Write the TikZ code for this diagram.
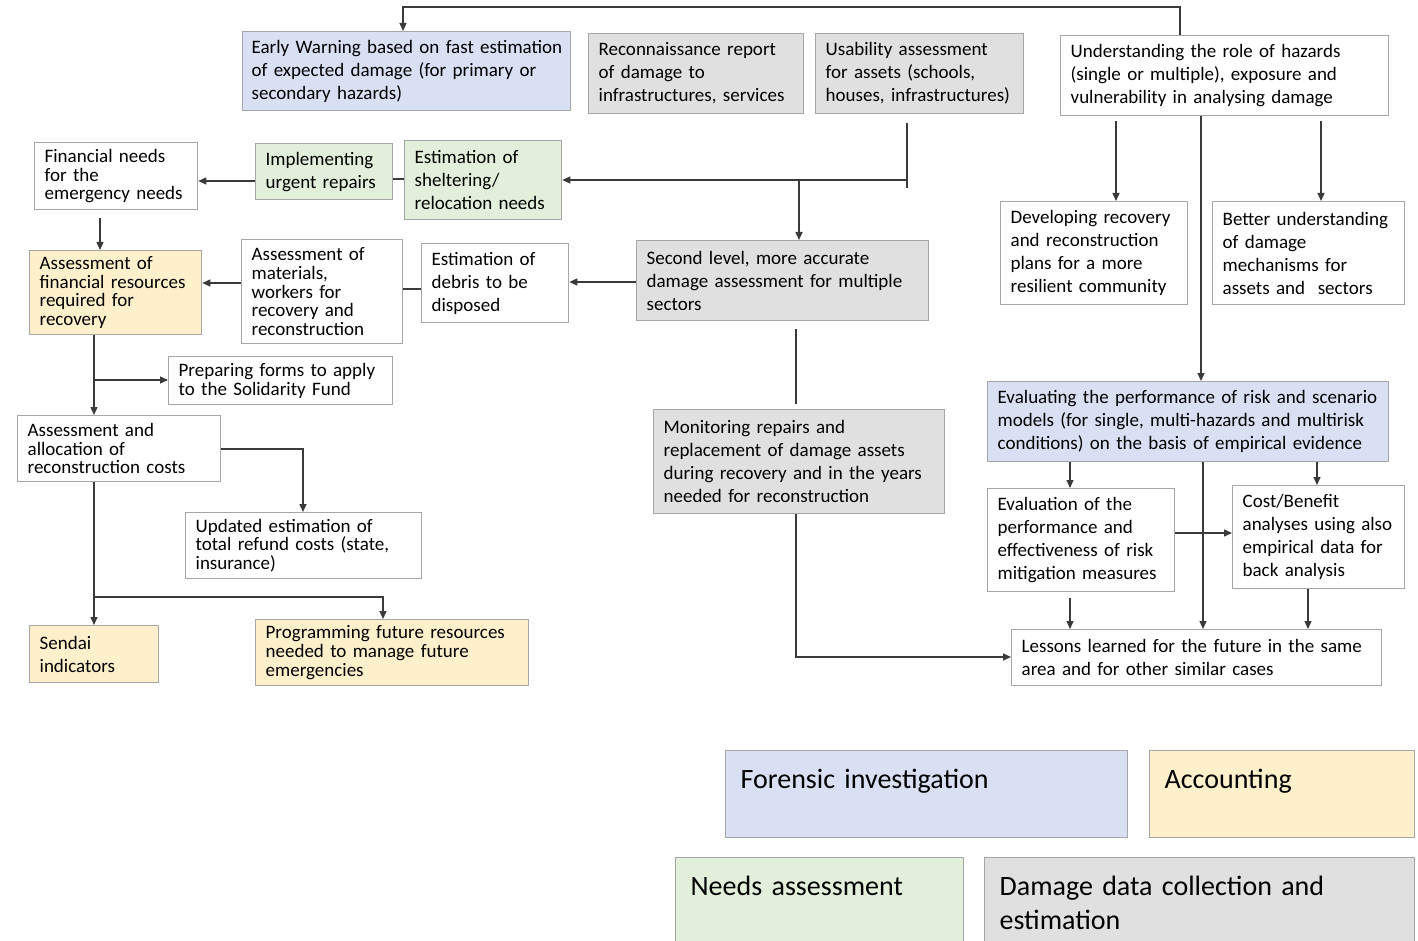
\documentclass[tikz,border=0pt]{standalone}
\usepackage{fontspec}
\setmainfont{Carlito}
\usetikzlibrary{arrows.meta}
\definecolor{cblue}{HTML}{DAE0F3}
\definecolor{cgray}{HTML}{E0E0E0}
\definecolor{cgreen}{HTML}{E2EFDA}
\definecolor{cyellow}{HTML}{FEF0CB}
\definecolor{boxline}{HTML}{A6A6A6}
\definecolor{linec}{HTML}{3A3A3A}
\tikzset{
  bx/.style={draw=boxline, line width=1.3pt, fill=white, anchor=north west,
    align=left, inner xsep=10pt, inner ysep=2pt,
    execute at begin node={\hyphenpenalty=10000\relax},
    font=\fontsize{19}{23}\selectfont},
  tight/.style={font=\fontsize{19}{18.6}\selectfont},
  legend/.style={draw=boxline, line width=1.3pt, anchor=north west, align=left,
    inner xsep=15pt, inner ysep=13pt, text height=25pt,
    font=\fontsize{28}{34}\selectfont},
  conn/.style={draw=linec, line width=1.3pt},
  arr/.style={conn, -{Triangle[length=8pt,width=7pt]}},
}
\begin{document}
\begin{tikzpicture}[x=1pt, y=-1pt]
\useasboundingbox[fill=white] (0,0) rectangle (1418,941);

% top row
\node[bx, fill=cblue, inner xsep=9pt, text width=310pt, minimum height=79pt] (ew) at (242,31)
  {\mbox{Early Warning based on fast estimation}\\of expected damage (for primary or\\secondary hazards)};
\node[bx, fill=cgray, text width=195pt, minimum height=80pt] (recon) at (588,33)
  {Reconnaissance report\\of damage to\\infrastructures, services};
\node[bx, fill=cgray, text width=188pt, minimum height=80pt] (usab) at (815,33)
  {Usability assessment\\for assets (schools,\\houses, infrastructures)};
\node[bx, text width=308pt, minimum height=80pt] (und) at (1060,35)
  {Understanding the role of hazards\\(single or multiple), exposure and\\vulnerability in analysing damage};

% needs and accounting branch
\node[bx, tight, text width=143pt, minimum height=67pt] (fin) at (34,142)
  {Financial needs\\for the\\emergency needs};
\node[bx, fill=cgreen, text width=117pt, minimum height=56pt] (impl) at (255,143)
  {Implementing\\urgent repairs};
\node[bx, fill=cgreen, text width=137pt, minimum height=79pt] (shel) at (404,140)
  {Estimation of\\sheltering/\\relocation needs};
\node[bx, tight, fill=cyellow, text width=152pt, minimum height=84pt] (assfin) at (29,250)
  {Assessment of\\financial resources\\required for\\recovery};
\node[bx, tight, text width=141pt, minimum height=104pt] (assmat) at (241,239)
  {Assessment of\\materials,\\workers for\\recovery and\\reconstruction};
\node[bx, text width=127pt, minimum height=79pt] (debris) at (421,243)
  {Estimation of\\debris to be\\disposed};
\node[bx, fill=cgray, text width=272pt, minimum height=80pt] (second) at (636,240)
  {Second level, more accurate\\damage assessment for multiple\\sectors};
\node[bx, tight, text width=204pt, minimum height=48pt] (prep) at (168,356)
  {Preparing forms to apply\\to the Solidarity Fund};
\node[bx, tight, text width=183pt, minimum height=66pt] (alloc) at (17,415)
  {Assessment and\\allocation of\\reconstruction costs};
\node[bx, tight, text width=216pt, minimum height=66pt] (upd) at (185,512)
  {Updated estimation of\\total refund costs (state,\\insurance)};
\node[bx, fill=cyellow, text width=109pt, minimum height=57pt] (sendai) at (29,625)
  {Sendai\\indicators};
\node[bx, tight, fill=cyellow, text width=253pt, minimum height=66pt] (prog) at (255,619)
  {Programming future resources\\needed to manage future\\emergencies};
\node[bx, fill=cgray, text width=271pt, minimum height=104pt] (monit) at (653,409)
  {Monitoring repairs and\\replacement of damage assets\\during recovery and in the years\\needed for reconstruction};

% forensic branch
\node[bx, text width=167pt, minimum height=103pt] (dev) at (1000,201)
  {Developing recovery\\and reconstruction\\plans for a more\\resilient community};
\node[bx, text width=172pt, minimum height=103pt] (better) at (1212,201)
  {Better understanding\\of damage\\mechanisms for\\assets and\ \ sectors};
\node[bx, fill=cblue, text width=381pt, minimum height=80pt] (eval) at (987,381)
  {Evaluating the performance of risk and scenario\\models (for single, multi-hazards and multirisk\\conditions) on the basis of empirical evidence};
\node[bx, text width=167pt, minimum height=103pt] (evalmit) at (987,488)
  {Evaluation of the\\performance and\\effectiveness of risk\\mitigation measures};
\node[bx, text width=152pt, minimum height=103pt] (cost) at (1232,485)
  {Cost/Benefit\\analyses using also\\empirical data for\\back analysis};
\node[bx, text width=350pt, minimum height=56pt] (less) at (1011,629)
  {Lessons learned for the future in the same\\area and for other similar cases};

% legend
\node[legend, fill=cblue, text width=372pt, text depth=36pt] (lgf) at (725,750) {Forensic investigation};
\node[legend, fill=cyellow, text width=235pt, text depth=36pt] (lga) at (1149,750) {Accounting};
\node[legend, fill=cgreen, text width=258pt, text depth=40pt] (lgn) at (675,857) {Needs assessment};
\node[legend, fill=cgray, text width=400pt, text depth=40pt] (lgd) at (984,857) {Damage data collection and\\estimation};

% connectors
\draw[arr] (1180,0 |- und.north) -- (1180,7) -- (403,7) -- (403,0 |- ew.north);

\coordinate (uj) at (907,180);
\draw[conn, shorten <=9pt] (uj |- usab.south) -- (907,188);
\draw[arr] (uj) -- (shel.east |- uj);
\draw[arr] (799,0 |- uj) -- (799,0 |- second.north);

\draw[conn] (shel.west |- 0,179) -- (impl.east |- 0,179);
\draw[arr] (impl.west |- 0,181) -- (fin.east |- 0,181);
\draw[arr, shorten <=8pt] (100,0 |- fin.south) -- (100,0 |- assfin.north);

\draw[arr] (second.west |- 0,282) -- (debris.east |- 0,282);
\draw[conn] (debris.west |- 0,289) -- (assmat.east |- 0,289);
\draw[arr] (assmat.west |- 0,283) -- (assfin.east |- 0,283);

\draw[arr] (94,0 |- assfin.south) -- (94,0 |- alloc.north);
\draw[arr] (94,380) -- (prep.west |- 0,380);
\draw[arr] (alloc.east |- 0,449) -| (303,0 |- upd.north);
\draw[arr] (94,0 |- alloc.south) -- (94,0 |- sendai.north);
\draw[arr] (94,597) -| (383,0 |- prog.north);

\draw[conn, shorten <=8pt, shorten >=5pt] (796,0 |- second.south) -- (796,0 |- monit.north);
\draw[arr] (796,0 |- monit.south) |- (less.west |- 0,657);

\draw[arr, shorten <=5pt] (1116,0 |- und.south) -- (1116,0 |- dev.north);
\draw[arr, shorten <=5pt] (1321,0 |- und.south) -- (1321,0 |- better.north);
\draw[arr] (1201,0 |- und.south) -- (1201,0 |- eval.north);

\draw[arr] (1070,0 |- eval.south) -- (1070,0 |- evalmit.north);
\draw[arr] (1317,0 |- eval.south) -- (1317,0 |- cost.north);
\draw[arr] (1203,0 |- eval.south) -- (1203,0 |- less.north);
\draw[arr] (evalmit.east |- 0,533) -- (cost.west |- 0,533);
\draw[arr, shorten <=6pt] (1070,0 |- evalmit.south) -- (1070,0 |- less.north);
\draw[arr] (1308,0 |- cost.south) -- (1308,0 |- less.north);
\end{tikzpicture}
\end{document}
